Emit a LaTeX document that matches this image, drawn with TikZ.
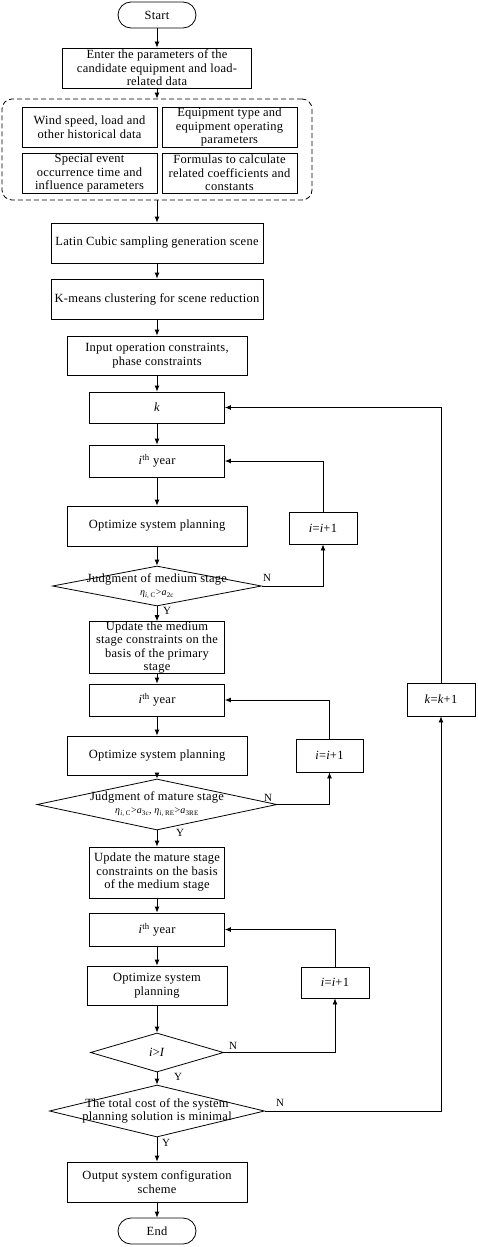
\documentclass[tikz,border=0pt]{standalone}
\usepackage{fontspec}
\setmainfont[LetterSpace=2]{Liberation Serif}
\usetikzlibrary{shapes.geometric,arrows.meta}
\begin{document}
\begin{tikzpicture}[x=1pt,y=-1pt,
  txt/.style={font=\fontsize{12.5}{13.5}\selectfont},
  box/.style={draw, line width=0.8pt, inner sep=0pt, align=center, txt},
  term/.style={box, rounded corners=13pt},
  dia/.style={draw, line width=0.8pt, diamond, inner sep=0pt},
  dtext/.style={align=center, inner sep=0pt, txt},
  lbl/.style={font=\fontsize{11}{12}\selectfont, inner sep=0pt},
  arr/.style={draw, line width=0.8pt, -{Latex[length=6pt,width=5pt]}},
  ln/.style={draw, line width=0.8pt}]
\useasboundingbox (0,0) rectangle (477,1247);

\node[term, minimum width=78, minimum height=26] (start) at (157,15) {Start};
\node[box, minimum width=189, minimum height=40] (enter) at (157,68) {Enter the parameters of the\\candidate equipment and load-\\related data};
\node[draw, line width=0.8pt, dash pattern=on 5pt off 3pt, rounded corners=10pt, minimum width=310, minimum height=101, inner sep=0pt] (grp) at (157,149.5) {};
\node[box, minimum width=135, minimum height=40] (w1) at (89.5,127) {Wind speed, load and\\other historical data};
\node[box, minimum width=135, minimum height=40] (w2) at (229.5,127) {Equipment type and\\equipment operating\\parameters};
\node[box, minimum width=135, minimum height=40] (w3) at (89.5,173) {Special event\\occurrence time and\\influence parameters};
\node[box, minimum width=135, minimum height=40] (w4) at (229.5,173) {Formulas to calculate\\related coefficients and\\constants};
\node[box, minimum width=212, minimum height=40] (latin) at (157,243) {Latin Cubic sampling generation scene};
\node[box, minimum width=212, minimum height=40] (kmeans) at (157,299) {K-means clustering for scene reduction};
\node[box, minimum width=180, minimum height=39] (input) at (157,355.5) {Input operation constraints,\\phase constraints};
\node[box, minimum width=135, minimum height=31] (k) at (157,407.5) {\textit{k}};

\node[box, minimum width=135, minimum height=32] (year1) at (157,461) {\textit{i}\textsuperscript{th} year};
\node[box, minimum width=180, minimum height=40] (opt1) at (157,526) {Optimize system planning};
\node[box, minimum width=68, minimum height=32] (inc1) at (323,528) {\textit{i}=\textit{i}+1};
\node[dia, minimum width=209, minimum height=40] (d1) at (157,586) {};
\node[dtext] (d1t) at (157,586) {Judgment of medium stage\\{\fontsize{10}{11}\selectfont\textit{η}\textsubscript{\textit{i}, C}>\textit{a}\textsubscript{2c}}};
\node[lbl] (n1) at (267,578) {N};
\node[lbl] (y1) at (167,611) {Y};

\node[box, minimum width=135, minimum height=51] (upd1) at (157,647.5) {Update the medium\\stage constraints on the\\basis of the primary\\stage};
\node[box, minimum width=135, minimum height=32] (year2) at (157,700) {\textit{i}\textsuperscript{th} year};
\node[box, minimum width=180, minimum height=39] (opt2) at (157,755.5) {Optimize system planning};
\node[box, minimum width=67, minimum height=33] (inc2) at (329.5,755.5) {\textit{i}=\textit{i}+1};
\node[dia, minimum width=240, minimum height=51] (d2) at (157,804.5) {};
\node[dtext] (d2t) at (157,804) {Judgment of mature stage\\{\fontsize{10}{11}\selectfont\textit{η}\textsubscript{\textit{i}, C}>\textit{a}\textsubscript{3c}, \textit{η}\textsubscript{\textit{i}, RE}>\textit{a}\textsubscript{3RE}}};
\node[lbl] (n2) at (268,798) {N};
\node[lbl] (y2) at (180,833) {Y};

\node[box, minimum width=135, minimum height=51] (upd2) at (157,872.5) {Update the mature stage\\constraints on the basis\\of the medium stage};
\node[box, minimum width=135, minimum height=33] (year3) at (157,929.5) {\textit{i}\textsuperscript{th} year};
\node[box, minimum width=140, minimum height=39] (opt3) at (157,985.5) {Optimize system\\planning};
\node[box, minimum width=68, minimum height=31] (inc3) at (335,982.5) {\textit{i}=\textit{i}+1};
\node[dia, minimum width=133, minimum height=39] (d3) at (157,1052.5) {};
\node[dtext] (d3t) at (157,1052.5) {\textit{i}>\textit{I}};
\node[lbl] (n3) at (233,1046) {N};
\node[lbl] (y3) at (178,1077) {Y};

\node[dia, minimum width=215, minimum height=52] (d4) at (157,1111) {};
\node[dtext] (d4t) at (157,1111) {The total cost of the system\\planning solution is minimal};
\node[lbl] (n4) at (280,1103) {N};
\node[lbl] (y4) at (166,1143) {Y};
\node[box, minimum width=68, minimum height=33] (kinc) at (441,699.5) {\textit{k}=\textit{k}+1};

\node[box, minimum width=180, minimum height=40] (out) at (157,1182) {Output system configuration\\scheme};
\node[term, minimum width=78, minimum height=26] (end) at (157,1231) {End};

% main flow
\draw[arr] (start) -- (enter);
\draw[arr] (enter) -- (grp);
\draw[arr] (grp) -- (latin);
\draw[arr] (latin) -- (kmeans);
\draw[arr] (kmeans) -- (input);
\draw[arr] (input) -- (k);
\draw[arr] (k) -- (year1);
\draw[arr] (year1) -- (opt1);
\draw[arr] (opt1) -- (d1.north);
\draw[arr] (d1.south) -- (upd1);
\draw[arr] (upd1) -- (year2);
\draw[arr] (year2) -- (opt2);
\draw[arr] (opt2) -- (d2.north);
\draw[arr] (d2.south) -- (upd2);
\draw[arr] (upd2) -- (year3);
\draw[arr] (year3) -- (opt3);
\draw[arr] (opt3) -- (d3.north);
\draw[arr] (d3.south) -- (d4.north);
\draw[arr] (d4.south) -- (out);
\draw[arr] (out) -- (end);
% loops
\draw[arr] (d1.east) -| (inc1.south);
\draw[arr] (inc1.north) |- (year1.east);
\draw[arr] (d2.east) -| (inc2.south);
\draw[arr] (inc2.north) |- (year2.east);
\draw[arr] (d3.east) -| (inc3.south);
\draw[arr] (inc3.north) |- (year3.east);
\draw[arr] (d4.east) -| (kinc.south);
\draw[arr] (kinc.north) |- (k.east);
\end{tikzpicture}
\end{document}
